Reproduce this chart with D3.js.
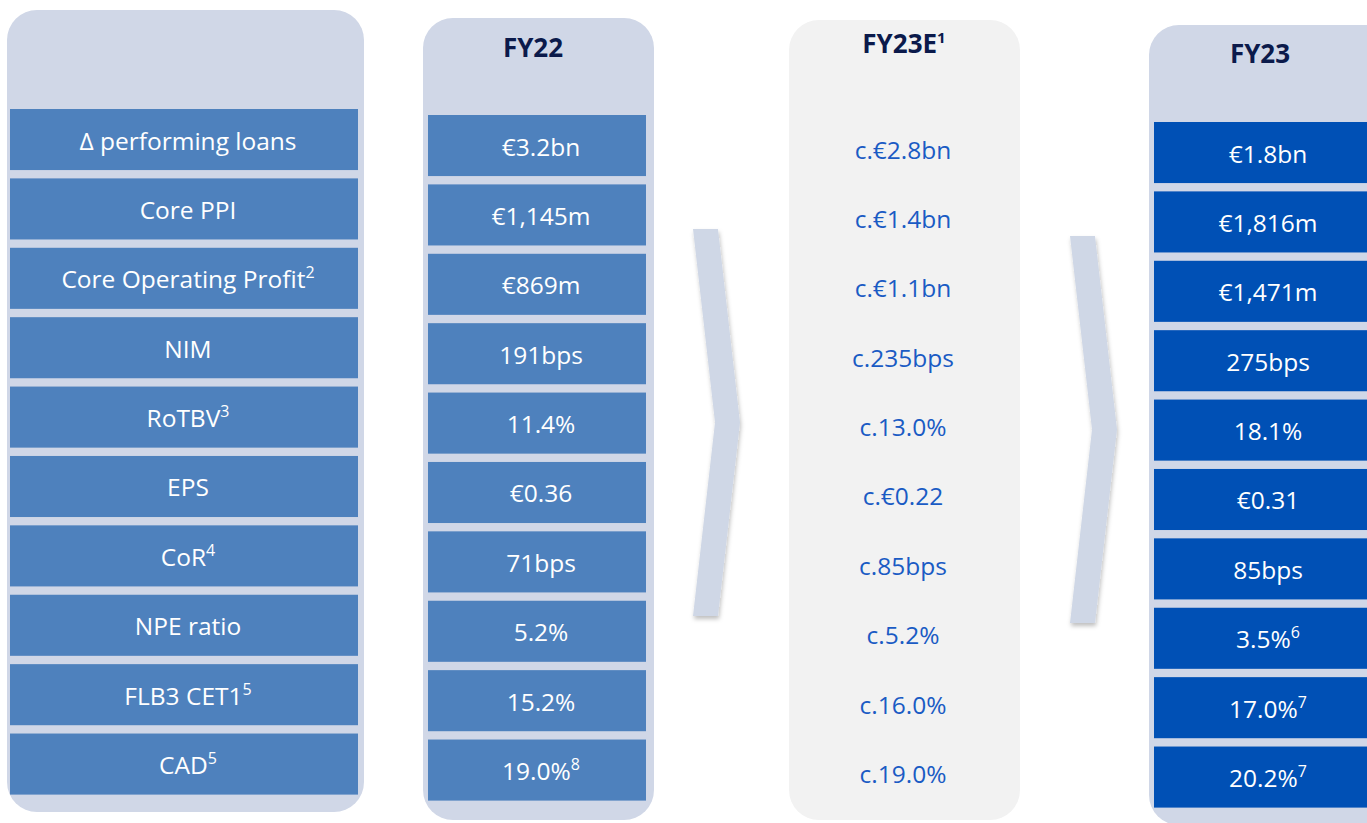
<!DOCTYPE html>
<html>
<head>
<meta charset="utf-8">
<script src="https://cdn.jsdelivr.net/npm/d3@7"></script>
<style>
  html, body { margin: 0; padding: 0; background: #fff; }
  svg { display: block; font-family: "Open Sans", Lato, sans-serif; }
</style>
</head>
<body>
<div id="chart"></div>
<script>
// KPI-Tabelle: FY22 → FY23E Guidance → FY23 Ist

const metrics = ['Δ performing loans', 'Core PPI', 'Core Operating Profit', 'NIM', 'RoTBV', 'EPS', 'CoR', 'NPE ratio', 'FLB3 CET1', 'CAD'];
const metricNotes = ['', '', '2', '', '3', '', '4', '', '5', '5'];

const fy22 = ['€3.2bn', '€1,145m', '€869m', '191bps', '11.4%', '€0.36', '71bps', '5.2%', '15.2%', '19.0%'];
const fy22Notes = ['', '', '', '', '', '', '', '', '', '8'];

const fy23e = ['c.€2.8bn', 'c.€1.4bn', 'c.€1.1bn', 'c.235bps', 'c.13.0%', 'c.€0.22', 'c.85bps', 'c.5.2%', 'c.16.0%', 'c.19.0%'];
const fy23eNotes = ['', '', '', '', '', '', '', '', '', ''];

const fy23 = ['€1.8bn', '€1,816m', '€1,471m', '275bps', '18.1%', '€0.31', '85bps', '3.5%', '17.0%', '20.2%'];
const fy23Notes = ['', '', '', '', '', '', '', '6', '7', '7'];

const headers = ['', 'FY22', 'FY23E', 'FY23'];
const headerNotes = ['', '', '1', ''];

const W = 1367, H = 823;
const svg = d3.select('#chart').append('svg')
    .attr('width', W)
    .attr('height', H);

const defs = svg.append('defs');
const f = defs.append('filter').attr('id', 'schatten')
    .attr('x', '-50%').attr('y', '-10%').attr('width', '200%').attr('height', '120%');
f.append('feDropShadow').attr('dx', 1).attr('dy', 3).attr('stdDeviation', 2)
    .attr('flood-color', '#000').attr('flood-opacity', 0.25);

// Spalten: Panel-Rahmen, Zeilenbereich, Kopfzeile, Stil
const spalten = [
    { werte: metrics, notes: metricNotes, panel: [7, 10, 357, 802], zeilen: [10, 358], cx: 188, y0: 109, kopf: null, bg: '#d0d7e7', zelle: '#4e81bd', text: '#fff' },
    { werte: fy22, notes: fy22Notes, panel: [423, 18, 231, 802], zeilen: [428, 646], cx: 541, y0: 115, kopf: [533, 57], bg: '#d0d7e7', zelle: '#4e81bd', text: '#fff' },
    { werte: fy23e, notes: fy23eNotes, panel: [789, 20, 231, 800], zeilen: [794, 1015], cx: 903, y0: 118, kopf: [904, 53], bg: '#f2f2f2', zelle: null, text: '#1a5bc4' },
    { werte: fy23, notes: fy23Notes, panel: [1149, 25, 250, 800], zeilen: [1154, 1380], cx: 1268, y0: 122, kopf: [1260, 63], bg: '#d0d7e7', zelle: '#0050b5', text: '#fff' }
];

const step = 69.4;
const idx = d3.range(metrics.length);

spalten.forEach((s, si) => {
    const g = svg.append('g');
    const [px, py, pw, ph] = s.panel;

    g.append('rect')
        .attr('x', px).attr('y', py)
        .attr('width', pw).attr('height', ph)
        .attr('rx', 30).attr('ry', 30)
        .attr('fill', s.bg);

    if (s.kopf) {
        const t = g.append('text')
            .attr('x', s.kopf[0])
            .attr('y', s.kopf[1])
            .attr('text-anchor', 'middle')
            .attr('font-size', '26px')
            .attr('font-weight', 'bold')
            .attr('fill', '#0b1a4b')
            .text(headers[si]);
        if (headerNotes[si]) {
            t.append('tspan').attr('font-size', '15px').attr('dy', -10).text(headerNotes[si]);
        }
    }

    const y = d3.scaleBand()
        .domain(idx)
        .range([s.y0, s.y0 + step * metrics.length - 8.4])
        .paddingInner(0.12)
        .paddingOuter(0);

    const zeilen = g.selectAll('g.zeile')
        .data(idx)
        .enter()
        .append('g')
        .attr('class', 'zeile')
        .attr('transform', i => `translate(0, ${y(i)})`);

    if (s.zelle) {
        zeilen.append('rect')
            .attr('x', s.zeilen[0])
            .attr('width', s.zeilen[1] - s.zeilen[0])
            .attr('height', y.bandwidth())
            .attr('fill', s.zelle);
    }

    const txt = zeilen.append('text')
        .attr('x', s.cx)
        .attr('y', y.bandwidth() / 2 + 10)
        .attr('text-anchor', 'middle')
        .attr('font-size', '24.5px')
        .attr('fill', s.text);

    txt.append('tspan').text(i => s.werte[i]);
    txt.append('tspan')
        .attr('font-size', '16px')
        .attr('dy', -10)
        .text(i => s.notes[i]);
});

// Chevron-Pfeile zwischen den Spalten
const pfeile = [
    { x: 693, top: 229, bottom: 616, spitze: 22, breite: 25 },
    { x: 1070, top: 236, bottom: 623, spitze: 22, breite: 25 }
];
svg.selectAll('path.pfeil')
    .data(pfeile)
    .enter()
    .append('path')
    .attr('class', 'pfeil')
    .attr('d', p => {
        const mid = (p.top + p.bottom) / 2;
        return `M${p.x},${p.top} L${p.x + p.breite},${p.top} L${p.x + p.breite + p.spitze},${mid} L${p.x + p.breite},${p.bottom} L${p.x},${p.bottom} L${p.x + p.spitze},${mid} Z`;
    })
    .attr('fill', '#cfd7e6')
    .attr('filter', 'url(#schatten)');
</script>
</body>
</html>
